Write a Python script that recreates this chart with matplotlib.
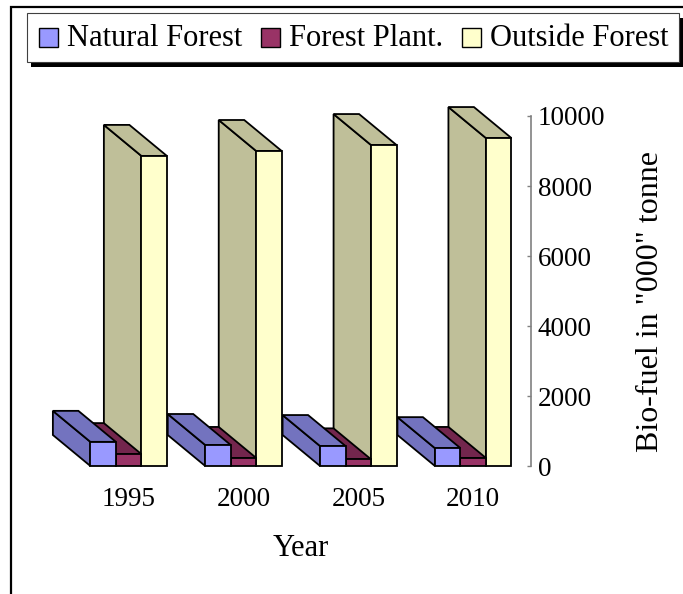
import matplotlib.pyplot as plt
from matplotlib.patches import Polygon, Rectangle
from matplotlib.colors import to_rgb

plt.rcParams['font.family'] = ['Liberation Serif', 'DejaVu Serif']

years = ['1995', '2000', '2005', '2010']
series = ['Natural Forest', 'Forest Plant.', 'Outside Forest']
natural_forest = [690, 600, 570, 510]
forest_plant = [340, 230, 190, 230]
outside_forest = [8860, 9000, 9170, 9370]
colors = ['#9999FF', '#993366', '#FFFFCC']
yticks = [0, 2000, 4000, 6000, 8000, 10000]

W, H = 683, 594


def fx(px):
    return px / W


def fy(py):
    return 1 - py / H


fig = plt.figure(figsize=(W / 100, H / 100), dpi=100)

# plot area: value axis on the right, 0 at the front floor
left_px, right_px = 71.2, 530.6
ax = fig.add_axes([fx(left_px), fy(466), fx(right_px) - fx(left_px), 350 / H])
ax.set_xlim(-0.5, 3.5)
ax.set_ylim(0, 10000)
ax.patch.set_visible(False)
for s in ['left', 'top', 'bottom']:
    ax.spines[s].set_visible(False)
ax.spines['right'].set_color('#808080')
ax.spines['right'].set_linewidth(1.2)
ax.yaxis.tick_right()
ax.set_yticks(yticks)
ax.tick_params(axis='y', direction='in', length=3, width=1, color='#808080',
               pad=5, labelsize=19.5)
ax.set_xticks(range(len(years)), years)
ax.tick_params(axis='x', length=0, pad=15, labelsize=19.5)

# depth offset of the 3d columns, in pixels -> data units
px_per_x = (right_px - left_px) / 4
px_per_y = 350 / 10000
dx = -37.5 / px_per_x
dy = 31 / px_per_y
bw = 25.5 / px_per_x


def draw_box(x0, h, color):
    side = tuple(c * 0.75 for c in to_rgb(color))
    kw = dict(edgecolor='black', linewidth=1.3, joinstyle='miter', clip_on=False)
    left = [(x0, 0), (x0, h), (x0 + dx, h + dy), (x0 + dx, dy)]
    top = [(x0, h), (x0 + bw, h), (x0 + bw + dx, h + dy), (x0 + dx, h + dy)]
    front = [(x0, 0), (x0 + bw, 0), (x0 + bw, h), (x0, h)]
    ax.add_patch(Polygon(left, closed=True, facecolor=side, **kw))
    ax.add_patch(Polygon(top, closed=True, facecolor=side, **kw))
    ax.add_patch(Polygon(front, closed=True, facecolor=color, **kw))


values = [natural_forest, forest_plant, outside_forest]
# draw from the right so the nearer (left) columns cover hidden faces
for i in reversed(range(len(years))):
    for k in reversed(range(len(series))):
        draw_box(i + (k - 1.5) * bw, values[k][i], colors[k])

fig.text(fx(301), fy(549), 'Year', ha='center', va='center', fontsize=22)
fig.text(fx(651), fy(301), 'Bio-fuel in "000" tonne', ha='center', va='center',
         rotation=90, fontsize=23)

# chart frame (only left and top edges fall inside the image)
fig.add_artist(Rectangle((fx(11), fy(620)), fx(720) - fx(11), fy(7) - fy(620),
                         transform=fig.transFigure, fill=False,
                         edgecolor='black', linewidth=1.6))

# legend box with a solid drop shadow
lx0, lx1, ly0, ly1 = 27, 679, 13, 62
fig.add_artist(Rectangle((fx(lx0 + 4), fy(ly1 + 5)), fx(lx1) - fx(lx0),
                         fy(ly0) - fy(ly1), transform=fig.transFigure,
                         facecolor='black', edgecolor='none'))
fig.add_artist(Rectangle((fx(lx0), fy(ly1)), fx(lx1) - fx(lx0),
                         fy(ly0) - fy(ly1), transform=fig.transFigure,
                         facecolor='white', edgecolor='#404040', linewidth=0.8))

renderer = fig.canvas.get_renderer()
x = 39
for name, c in zip(series, colors):
    fig.add_artist(Rectangle((fx(x), fy(47)), fx(19) - fx(0), fy(28) - fy(47),
                             transform=fig.transFigure, facecolor=c,
                             edgecolor='black', linewidth=1.0))
    t = fig.text(fx(x + 28), fy(38), name, ha='left', va='center', fontsize=22)
    x = x + 28 + t.get_window_extent(renderer).width + 19

fig.savefig('out.png', dpi=100)
